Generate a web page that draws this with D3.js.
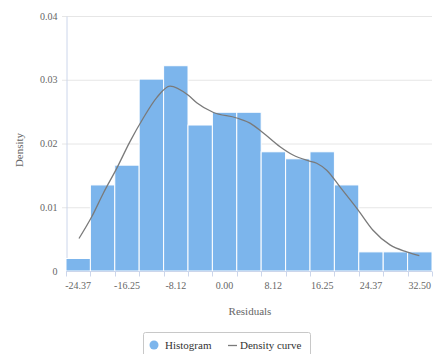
<!DOCTYPE html>
<html>
<head>
<meta charset="utf-8">
<script src="https://cdn.jsdelivr.net/npm/d3@7"></script>
<style>
  html, body { margin: 0; padding: 0; background: #fff; }
  svg { display: block; }
  text { font-family: "Liberation Serif", "Times New Roman", serif; }
</style>
</head>
<body>
<svg id="chart" width="433" height="354"></svg>
<script>
// Histogram bins: centre of each bin and its density value
const binWidth = 4.0625;
const binCenters = [-24.37, -20.31, -16.25, -12.19, -8.12, -4.06, 0.00, 4.06,
                    8.12, 12.19, 16.25, 20.31, 24.37, 28.44, 32.50];
const binDensity = [0.00196, 0.0135, 0.0166, 0.0301, 0.0322, 0.0229, 0.0249, 0.0249,
                    0.0187, 0.0176, 0.0187, 0.0135, 0.0030, 0.0030, 0.0030];

// Kernel density estimate, sampled along the residual range
const curveX = [-24.24, -22.12, -20.19, -17.96, -15.75, -13.53, -11.30, -9.09, -6.09, -4.64,
                -1.93, 2.02, 4.23, 6.40, 9.23, 11.39, 13.89, 15.34, 17.00, 19.21,
                22.21, 24.71, 27.54, 30.32, 32.42];
const curveY = [0.0051, 0.0085, 0.0122, 0.0161, 0.0203, 0.0240, 0.0272, 0.0290, 0.0276, 0.0264,
                0.0249, 0.0240, 0.0232, 0.0217, 0.0195, 0.0182, 0.0173, 0.0169, 0.0158,
                0.0132, 0.0096, 0.0064, 0.0041, 0.0030, 0.0024];

const xTickLabels = ["-24.37", "-16.25", "-8.12", "0.00", "8.12", "16.25", "24.37", "32.50"];
const yTicks = [0, 0.01, 0.02, 0.03, 0.04];

const svg = d3.select("#chart");
const plot = { left: 66, right: 432, top: 16, bottom: 271 };

const x = d3.scaleLinear()
  .domain([binCenters[0] - binWidth / 2, binCenters[binCenters.length - 1] + binWidth / 2])
  .range([plot.left, plot.right]);
const y = d3.scaleLinear().domain([0, 0.04]).range([plot.bottom, plot.top]);

// Horizontal grid lines
svg.append("g")
  .selectAll("line")
  .data(yTicks.slice(1))
  .join("line")
  .attr("x1", plot.left - 4).attr("x2", plot.right)
  .attr("y1", d => y(d) + 0.5).attr("y2", d => y(d) + 0.5)
  .attr("stroke", "#e6e6e6").attr("stroke-width", 1);

// Y axis
const yAxis = svg.append("g")
  .attr("transform", `translate(${plot.left + 0.5},0)`)
  .call(d3.axisLeft(y).tickValues(yTicks).tickFormat(d => d === 0 ? "0" : d3.format(".2f")(d))
    .tickSize(0).tickPadding(9));
yAxis.select(".domain").attr("stroke", "#ccd6eb");
yAxis.selectAll("text").attr("fill", "#666").attr("font-size", 10)
  .style("font-family", "'Liberation Serif', serif");

// Bars
svg.append("g")
  .selectAll("rect")
  .data(binCenters)
  .join("rect")
  .attr("x", (d) => x(d - binWidth / 2))
  .attr("width", (d) => x(d + binWidth / 2) - x(d - binWidth / 2))
  .attr("y", (d, i) => y(binDensity[i]))
  .attr("height", (d, i) => y(0) - y(binDensity[i]))
  .attr("fill", "#7cb5ec")
  .attr("stroke", "#ffffff")
  .attr("stroke-width", 1);

// X axis: ticks on bin edges, labels under every other bin
const edges = binCenters.map(c => c - binWidth / 2).concat([binCenters[binCenters.length - 1] + binWidth / 2]);
const xAxisG = svg.append("g").attr("transform", `translate(0,${plot.bottom + 0.5})`);
xAxisG.append("line")
  .attr("x1", plot.left).attr("x2", plot.right)
  .attr("stroke", "#ccd6eb");
xAxisG.selectAll("line.tick")
  .data(edges)
  .join("line")
  .attr("class", "tick")
  .attr("x1", d => Math.round(x(d)) + 0.5).attr("x2", d => Math.round(x(d)) + 0.5)
  .attr("y1", 0).attr("y2", 5)
  .attr("stroke", "#ccd6eb");
xAxisG.selectAll("text")
  .data(xTickLabels)
  .join("text")
  .attr("x", d => x(+d))
  .attr("y", 17)
  .attr("text-anchor", "middle")
  .attr("fill", "#666")
  .attr("font-size", 10)
  .text(d => d);

// Density curve
const line = d3.line()
  .x((d, i) => x(curveX[i]))
  .y((d, i) => y(curveY[i]))
  .curve(d3.curveMonotoneX);
svg.append("path")
  .datum(curveX)
  .attr("d", line)
  .attr("fill", "none")
  .attr("stroke", "#7a7a7a")
  .attr("stroke-width", 1.3);

// Axis titles
svg.append("text")
  .attr("x", (plot.left + plot.right) / 2 + 1)
  .attr("y", 315)
  .attr("text-anchor", "middle")
  .attr("fill", "#666")
  .attr("font-size", 11)
  .text("Residuals");

svg.append("text")
  .attr("transform", "translate(23,150) rotate(-90)")
  .attr("text-anchor", "middle")
  .attr("fill", "#666")
  .attr("font-size", 11)
  .text("Density");

// Legend
const legend = svg.append("g");
legend.append("rect")
  .attr("x", 143.5).attr("y", 332.5)
  .attr("width", 167).attr("height", 30)
  .attr("rx", 2)
  .attr("fill", "#fff")
  .attr("stroke", "#c8c8c8");
legend.append("circle")
  .attr("cx", 154).attr("cy", 345).attr("r", 4.5)
  .attr("fill", "#7cb5ec");
legend.append("text")
  .attr("x", 165).attr("y", 349)
  .attr("fill", "#333")
  .attr("font-size", 11)
  .text("Histogram");
legend.append("line")
  .attr("x1", 228).attr("x2", 237)
  .attr("y1", 345.5).attr("y2", 345.5)
  .attr("stroke", "#7a7a7a").attr("stroke-width", 1.3);
legend.append("text")
  .attr("x", 240).attr("y", 349)
  .attr("fill", "#333")
  .attr("font-size", 11)
  .text("Density curve");
</script>
</body>
</html>
